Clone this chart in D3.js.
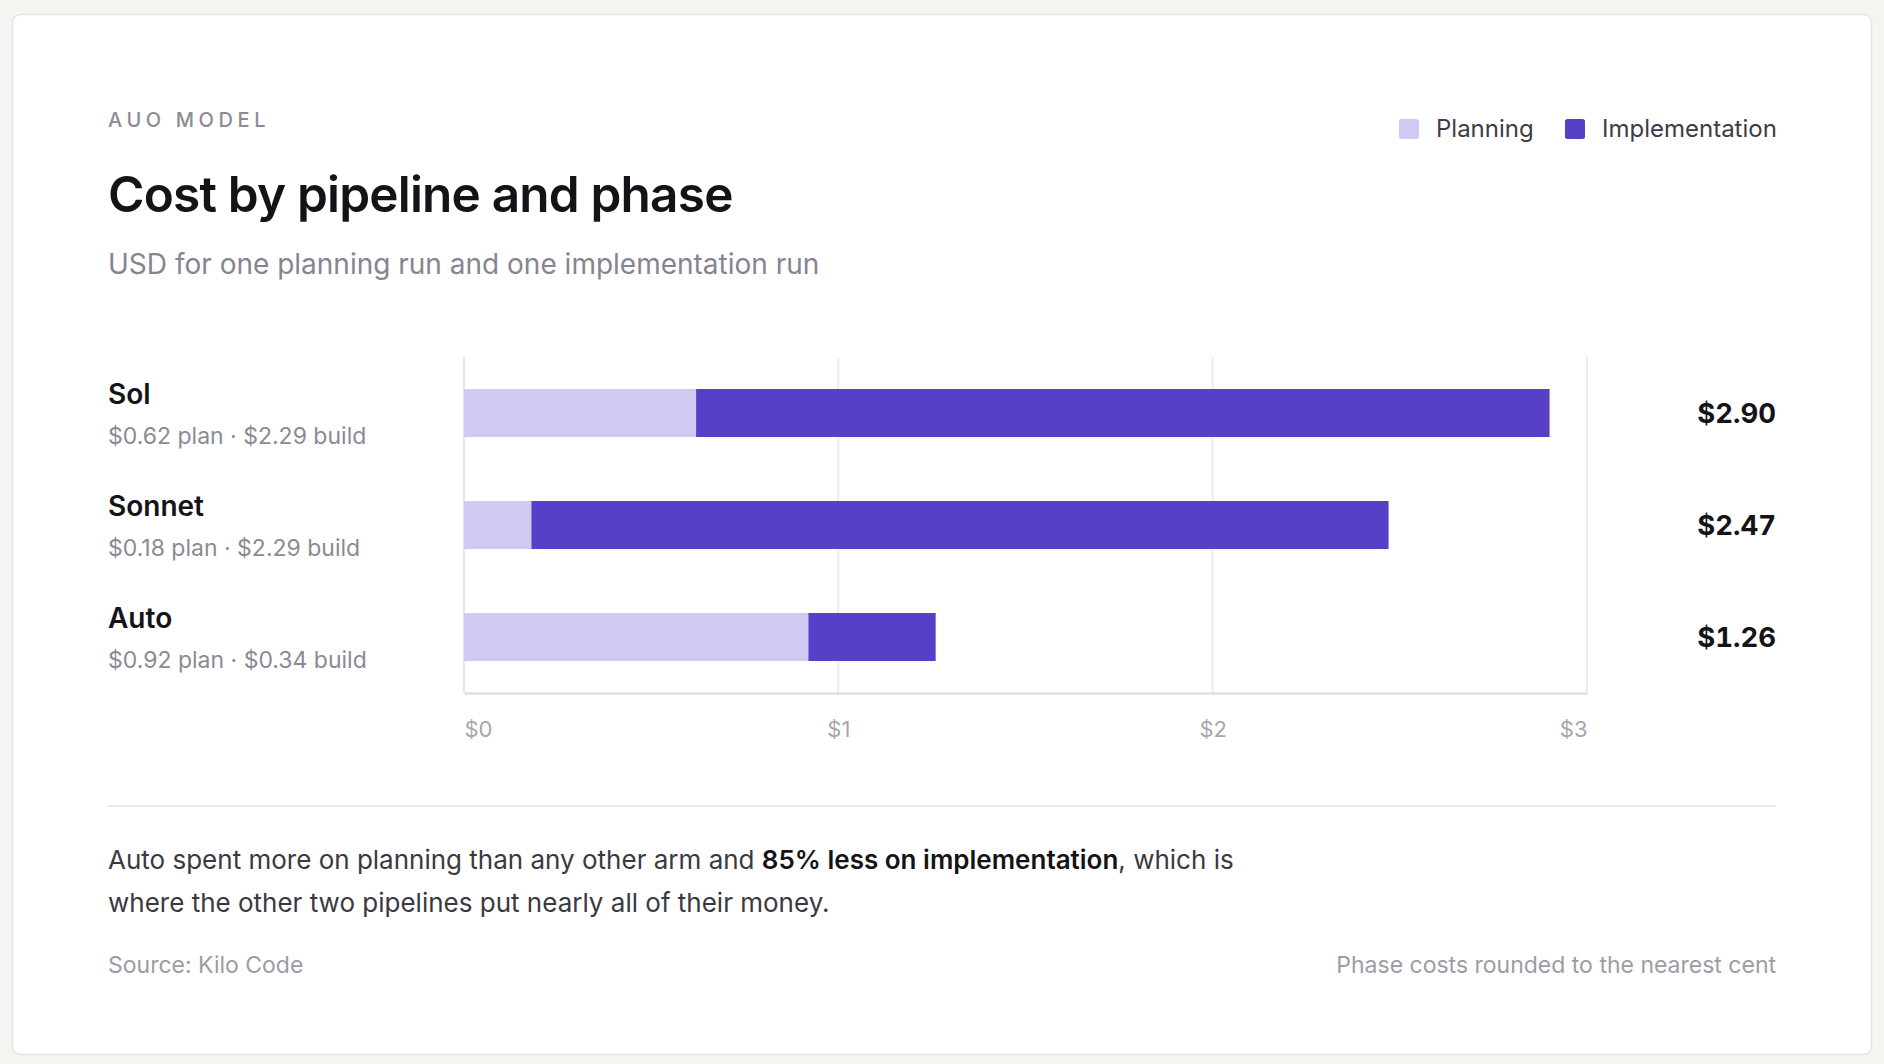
<!DOCTYPE html>
<html>
<head>
<meta charset="utf-8">
<script src="https://cdn.jsdelivr.net/npm/d3@7"></script>
<style>
  html, body { margin: 0; padding: 0; background: #f5f4f0; }
  svg { display: block; font-family: Inter, "Noto Sans", sans-serif; }
</style>
</head>
<body>
<svg id="chart" width="1884" height="1064"></svg>
<script>
// ---- data ----
const pipelines = ["Sol", "Sonnet", "Auto"];
const planCost = [0.62, 0.18, 0.92];
const buildCost = [2.29, 2.29, 0.34];
const totalCost = [2.90, 2.47, 1.26];
const tickValues = [0, 1, 2, 3];
const seriesNames = ["Planning", "Implementation"];
const seriesColors = ["#d2c9f2", "#5740c7"];

const svg = d3.select("#chart");
const left = 108, right = 1776;

// card
svg.append("rect").attr("x", 12.5).attr("y", 14.5).attr("width", 1859).attr("height", 1040)
  .attr("rx", 8).attr("fill", "#ffffff").attr("stroke", "#e7e5e0").attr("stroke-width", 1.5);

// header
svg.append("text").attr("x", left).attr("y", 127).text("AUO MODEL")
  .attr("font-size", 20).attr("letter-spacing", 4.6).attr("fill", "#8d8c96").attr("font-weight", 500);
svg.append("text").attr("x", left).attr("y", 212).text("Cost by pipeline and phase")
  .attr("font-size", 49.5).attr("font-weight", 600).attr("letter-spacing", -0.8).attr("fill", "#141418");
svg.append("text").attr("x", left).attr("y", 274).text("USD for one planning run and one implementation run")
  .attr("font-size", 28).attr("fill", "#86858f");

// legend
const legendX = [1399, 1565];
const lg = svg.append("g");
seriesNames.forEach((n, i) => {
  lg.append("rect").attr("x", legendX[i]).attr("y", 119).attr("width", 20).attr("height", 20)
    .attr("rx", 2.5).attr("fill", seriesColors[i]);
  lg.append("text").attr("x", legendX[i] + 37).attr("y", 137).text(n)
    .attr("font-size", 24).attr("fill", "#3d3c46");
});

// scales
const x = d3.scaleLinear().domain([0, 3]).range([464, 1587]);
const y = d3.scaleBand().domain(pipelines).range([357, 693]).paddingInner(0.5714).paddingOuter(0.2857);
const bw = y.bandwidth();

// grid lines
svg.append("g").selectAll("line").data(tickValues.slice(1)).join("line")
  .attr("x1", d => x(d)).attr("x2", d => x(d)).attr("y1", 357).attr("y2", 693)
  .attr("stroke", "#ededeb").attr("stroke-width", 2);
svg.append("line").attr("x1", x(0)).attr("x2", x(0)).attr("y1", 357).attr("y2", 693)
  .attr("stroke", "#e8e7e3").attr("stroke-width", 2);

// bars
const rows = pipelines.map((p, i) => ({ name: p, plan: planCost[i], build: buildCost[i], total: totalCost[i] }));
const bars = svg.append("g");
bars.selectAll("rect.plan").data(rows).join("rect").attr("class", "plan")
  .attr("x", x(0)).attr("y", d => y(d.name)).attr("height", bw)
  .attr("width", d => x(d.plan) - x(0)).attr("fill", seriesColors[0]);
bars.selectAll("rect.build").data(rows).join("rect").attr("class", "build")
  .attr("x", d => x(d.plan)).attr("y", d => y(d.name)).attr("height", bw)
  .attr("width", d => x(d.total) - x(d.plan)).attr("fill", seriesColors[1]);

// bottom axis
const axis = d3.axisBottom(x).tickValues(tickValues).tickSize(0).tickPadding(0).tickFormat(d => "$" + d);
const ag = svg.append("g").attr("transform", "translate(0,693)").call(axis);
ag.select(".domain").attr("stroke", "#e0dfda").attr("stroke-width", 2.5);
ag.selectAll("text").attr("font-family", "Inter, sans-serif").attr("font-size", 22)
  .attr("fill", "#a7a6ae").attr("dy", null).attr("y", 44)
  .attr("text-anchor", (d, i) => i === 0 ? "start" : (i === tickValues.length - 1 ? "end" : "middle"));

// row labels
const rl = svg.append("g");
rl.selectAll("text.name").data(rows).join("text").attr("class", "name")
  .attr("x", left).attr("y", d => y(d.name) + 15).text(d => d.name)
  .attr("font-size", 28).attr("font-weight", 600).attr("fill", "#141418");
rl.selectAll("text.sub").data(rows).join("text").attr("class", "sub")
  .attr("x", left).attr("y", d => y(d.name) + bw / 2 + 31)
  .text(d => "$" + d.plan.toFixed(2) + " plan · $" + d.build.toFixed(2) + " build")
  .attr("font-size", 23).attr("fill", "#8b8a94");
rl.selectAll("text.total").data(rows).join("text").attr("class", "total")
  .attr("x", right).attr("y", d => y(d.name) + bw / 2 + 10).attr("text-anchor", "end")
  .style("font-variant-numeric", "tabular-nums")
  .text(d => "$" + d.total.toFixed(2))
  .attr("font-size", 27.5).attr("font-weight", 700).attr("fill", "#141418");

// divider
svg.append("line").attr("x1", left).attr("x2", right).attr("y1", 806).attr("y2", 806)
  .attr("stroke", "#e3e2de").attr("stroke-width", 1.5);

// paragraph
const p1 = svg.append("text").attr("x", left).attr("y", 869).attr("font-size", 26).attr("fill", "#3a3942");
p1.append("tspan").text("Auto spent more on planning than any other arm and ");
p1.append("tspan").text("85% less on implementation").attr("font-weight", 600).attr("fill", "#141418");
p1.append("tspan").text(", which is");
svg.append("text").attr("x", left).attr("y", 912).attr("font-size", 26).attr("fill", "#3a3942")
  .text("where the other two pipelines put nearly all of their money.");

// footer
svg.append("text").attr("x", left).attr("y", 973).attr("font-size", 23).attr("fill", "#9d9ca5")
  .text("Source: Kilo Code");
svg.append("text").attr("x", right).attr("y", 973).attr("font-size", 23).attr("fill", "#9d9ca5")
  .attr("text-anchor", "end").text("Phase costs rounded to the nearest cent");
</script>
</body>
</html>
